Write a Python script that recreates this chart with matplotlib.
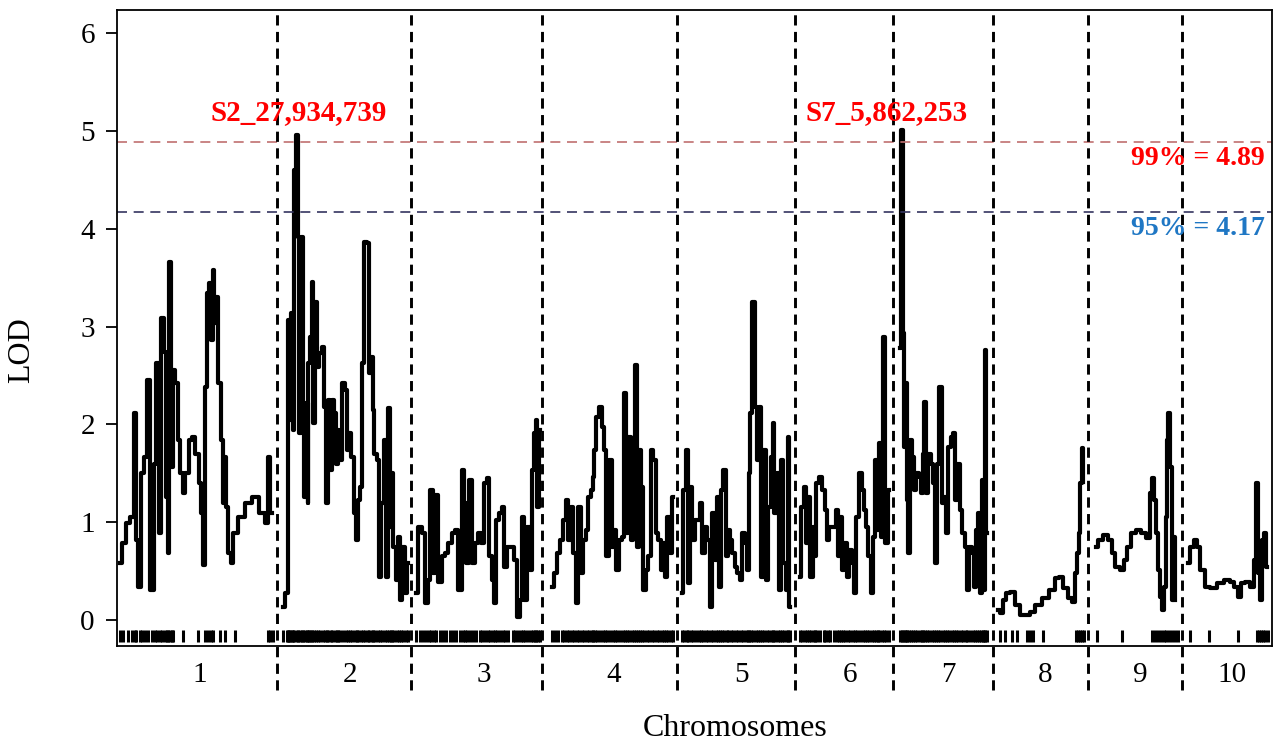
import matplotlib
matplotlib.use("Agg")
import matplotlib.pyplot as plt
from matplotlib.transforms import blended_transform_factory

plt.rcParams['font.family'] = ['Liberation Serif', 'DejaVu Serif']

# LOD profile, one pair of lists per chromosome (cumulative position, LOD)
chr1_pos = [120, 123, 128, 132, 135, 136, 140, 142, 145, 148, 152, 155, 157, 160, 162, 165, 167, 168, 170, 172,
            173, 177, 178, 182, 183, 187, 190, 193, 197, 200, 202, 204, 206, 208, 210, 212, 213, 215, 217, 219,
            222, 223, 225, 227, 229, 232, 233, 242, 248, 255, 262, 267, 268, 272]
chr1_lod = [0.58, 0.79, 0.99, 1.05, 2.12, 0.82, 0.34, 1.5, 1.67, 2.45, 0.31, 1.6, 2.63, 0.89, 3.09, 2.74, 1.26, 0.68, 3.66, 1.56,
            2.56, 2.42, 1.84, 1.5, 1.3, 1.5, 1.84, 1.87, 1.7, 1.4, 1.09, 0.56, 2.38, 3.34, 3.45, 2.86, 3.58, 3.04, 3.3, 2.42,
            1.84, 1.2, 1.67, 1.16, 0.68, 0.58, 0.89, 1.05, 1.2, 1.26, 1.09, 0.99, 1.67, 1.09]

chr2_pos = [283, 287, 288, 288.5, 290, 292, 293, 294, 297, 298, 300, 302, 303, 305, 307, 308, 308.5, 311, 312, 314,
            316, 318, 320, 323, 325, 327, 328, 331, 332, 335, 337, 338, 340, 343, 346, 348, 350, 352, 355, 357,
            358, 361, 363, 365, 368, 369, 372, 373, 375, 378, 380, 382, 385, 387, 389, 391, 392, 394, 397, 399,
            401, 403, 406, 408]
chr2_lod = [0.13, 0.28, 1.53, 3.07, 2.04, 3.14, 1.94, 4.6, 4.96, 3.92, 1.91, 3.92, 2.12, 1.26, 2.22, 1.2, 2.63, 2.89, 3.46, 2.01,
            3.25, 2.59, 2.73, 2.79, 2.18, 1.2, 2.25, 1.53, 2.25, 2.12, 1.6, 1.94, 1.64, 2.42, 2.35, 1.74, 1.91, 1.67, 1.09, 0.82,
            1.23, 1.36, 2.63, 3.86, 3.85, 2.53, 2.69, 2.15, 1.7, 1.64, 0.44, 1.2, 1.84, 0.44, 2.17, 0.95, 1.5, 0.75, 0.41, 0.85,
            0.2, 0.75, 0.28, 0.58]

chr3_pos = [416, 420, 423, 426, 429, 431, 434, 436, 440, 443, 446, 450, 453, 456, 460, 463, 465, 467, 470, 473,
            476, 480, 482, 485, 488, 490, 493, 495, 497, 500, 503, 505, 508, 513, 515, 518, 521, 523, 525, 528,
            531, 533, 535, 536, 538, 540]
chr3_lod = [0.28, 0.95, 0.89, 0.17, 0.41, 1.33, 0.48, 1.28, 0.39, 0.65, 0.68, 0.79, 0.89, 0.92, 0.31, 1.53, 1.2, 0.58, 1.43, 0.58,
            0.79, 0.89, 0.79, 1.4, 1.45, 0.65, 0.41, 0.17, 1.02, 1.09, 1.16, 0.54, 0.75, 0.75, 0.61, 0.03, 0.2, 1.05, 0.2, 0.95,
            0.51, 1.53, 1.91, 2.04, 1.16, 1.94]

chr4_pos = [552, 555, 558, 562, 564, 567, 569, 572, 574, 577, 579, 582, 584, 587, 589, 592, 593, 595, 597, 600,
            603, 605, 607, 610, 613, 615, 617, 620, 623, 625, 627, 629, 632, 634, 636, 638, 640, 642, 644, 647,
            649, 652, 654, 657, 659, 662, 664, 666, 668, 671, 673]
chr4_lod = [0.34, 0.48, 0.68, 0.82, 1.02, 1.23, 0.82, 1.16, 0.68, 0.17, 1.16, 0.48, 0.82, 0.92, 1.26, 1.33, 1.46, 1.74, 2.08, 2.18,
            1.97, 1.74, 0.65, 1.64, 0.75, 0.92, 0.51, 0.82, 0.85, 2.32, 0.89, 1.87, 0.82, 1.56, 2.61, 0.75, 1.74, 1.36, 0.31, 0.51,
            0.65, 1.74, 1.64, 0.89, 0.82, 0.51, 0.79, 0.44, 1.05, 0.68, 1.26]

chr5_pos = [682, 684, 687, 688, 691, 693, 696, 699, 701, 703, 706, 708, 711, 713, 716, 718, 720, 722, 724, 727,
            728, 731, 733, 736, 738, 741, 743, 746, 748, 749, 751, 753, 756, 758, 760, 762, 764, 767, 769, 772,
            773, 775, 778, 780, 782, 784, 787, 788, 790]
chr5_lod = [0.28, 1.33, 1.74, 0.38, 1.36, 0.82, 1.02, 1.02, 1.2, 0.68, 0.95, 0.82, 0.13, 1.09, 0.61, 1.26, 0.34, 1.33, 1.53, 0.65,
            0.92, 0.82, 0.68, 0.54, 0.48, 0.41, 0.89, 0.79, 0.51, 1.5, 2.12, 3.25, 2.18, 1.64, 2.18, 0.44, 1.74, 0.41, 1.16, 1.67,
            2.01, 1.09, 1.5, 0.31, 1.64, 0.58, 0.31, 1.87, 0.13]

chr6_pos = [800, 802, 805, 807, 809, 811, 814, 815, 817, 820, 824, 825, 828, 830, 834, 837, 839, 841, 843, 845,
            848, 850, 853, 855, 857, 860, 863, 865, 867, 869, 872, 874, 876, 878, 879, 882, 884, 886, 889]
chr6_lod = [0.44, 1.16, 1.36, 0.79, 1.26, 0.44, 0.95, 0.65, 1.4, 1.46, 1.33, 1.12, 0.82, 0.95, 0.95, 1.12, 0.65, 1.05, 0.51, 0.79,
            0.44, 0.72, 0.58, 0.28, 1.05, 1.5, 1.33, 1.12, 0.95, 0.65, 0.28, 0.85, 1.64, 0.92, 1.81, 0.85, 2.89, 0.79, 1.33]

chr7_pos = [900, 902, 903, 905, 906, 907, 909, 911, 913, 915, 917, 920, 922, 923, 925, 927, 929, 932, 934, 936,
            938, 940, 943, 945, 947, 949, 952, 954, 956, 958, 961, 963, 966, 967, 970, 973, 975, 977, 979, 981,
            983, 984, 985, 987]
chr7_lod = [2.78, 5.01, 2.93, 1.77, 2.42, 1.23, 0.68, 1.84, 1.67, 1.33, 1.5, 1.46, 1.3, 1.7, 2.23, 1.3, 1.7, 1.6, 1.4, 0.58,
            1.6, 2.38, 1.2, 1.26, 0.89, 1.77, 1.87, 1.91, 1.23, 1.6, 1.12, 0.89, 0.75, 0.31, 0.75, 0.68, 0.34, 0.92, 1.09, 0.28,
            1.43, 0.31, 2.76, 0.89]

chr8_pos = [998, 1002, 1004, 1008, 1012, 1017, 1022, 1027, 1032, 1038, 1045, 1052, 1057, 1060, 1065, 1070, 1073, 1076,
            1078, 1079, 1081, 1082, 1083]
chr8_lod = [0.10, 0.07, 0.2, 0.28, 0.29, 0.15, 0.05, 0.05, 0.08, 0.15, 0.22, 0.31, 0.43, 0.44, 0.33, 0.22, 0.18, 0.48,
            0.68, 0.89, 1.4, 1.76, 1.41]

chr9_pos = [1096, 1100, 1105, 1110, 1113, 1117, 1122, 1125, 1128, 1133, 1138, 1143, 1148, 1151, 1153, 1155, 1157, 1158,
            1161, 1163, 1165, 1166, 1167, 1169, 1171, 1172, 1174, 1175]
chr9_lod = [0.75, 0.82, 0.87, 0.82, 0.68, 0.54, 0.51, 0.61, 0.75, 0.89, 0.92, 0.89, 0.84, 1.3, 1.45, 1.23, 0.89, 0.51,
            0.24, 0.1, 0.34, 1.05, 1.84, 2.12, 1.56, 0.2, 0.85, 0.2]

chr10_pos = [1188, 1192, 1195, 1198, 1202, 1207, 1213, 1220, 1227, 1232, 1236, 1239, 1243, 1247, 1252, 1255, 1257, 1258,
             1261, 1263, 1265, 1267]
chr10_lod = [0.58, 0.75, 0.82, 0.75, 0.51, 0.34, 0.33, 0.38, 0.41, 0.39, 0.34, 0.24, 0.38, 0.39, 0.34, 0.61, 1.4, 0.48,
             0.2, 0.82, 0.89, 0.54]

# marker positions for the rug where they are sparse
chr1_extra_markers = [183, 198, 205, 208, 211, 213, 220, 225, 235, 268, 270, 273]
chr8_markers = [1000, 1005, 1012, 1017, 1027, 1030, 1033, 1043, 1076, 1078, 1080, 1082, 1084]
chr9_markers = [1097, 1122, 1152, 1155, 1158, 1161, 1164, 1166, 1169, 1172, 1175, 1178]
chr10_markers = [1190, 1209, 1238, 1257, 1259, 1261, 1263, 1265, 1268]

chrom_names = ['1', '2', '3', '4', '5', '6', '7', '8', '9', '10']
chrom_centers = [200, 350, 484, 614, 742, 850, 948, 1045, 1140, 1232]
chrom_breaks = [277, 411, 542, 677, 795, 893, 993, 1088, 1182]

thr99 = 4.89
thr95 = 4.17
peak_names = ['S2_27,934,739', 'S7_5,862,253']
peak_x = [299, 887]

profiles = [(chr1_pos, chr1_lod), (chr2_pos, chr2_lod), (chr3_pos, chr3_lod), (chr4_pos, chr4_lod),
            (chr5_pos, chr5_lod), (chr6_pos, chr6_lod), (chr7_pos, chr7_lod), (chr8_pos, chr8_lod),
            (chr9_pos, chr9_lod), (chr10_pos, chr10_lod)]

markers = [p for p in chr1_pos if p < 175] + chr1_extra_markers
for pos, lod in profiles[1:7]:
    markers += pos
markers += chr8_markers + chr9_markers + chr10_markers

fig = plt.figure(figsize=(12.81, 7.42), dpi=100)
ax = fig.add_axes([117 / 1281, 1 - 646 / 742, (1272 - 117) / 1281, 636 / 742])

for pos, lod in profiles:
    ax.plot(pos, lod, color='black', lw=3.0, drawstyle='steps-mid')

ax.vlines(markers, -0.23, -0.1, color='black', lw=2.2)

ax.axhline(thr99, color='#c07070', lw=1.2, ls=(0, (6, 4)))
ax.axhline(thr95, color='#353560', lw=1.2, ls=(0, (6, 4)))

ax.vlines(chrom_breaks, -0.72, 6.24, color='black', lw=2.1, ls=(0, (3.5, 2.2)), clip_on=False)

ax.set_xlim(117, 1272)
ax.set_ylim(-0.266, 6.237)
ax.set_xticks([])
ax.set_yticks(range(7))
ax.tick_params(axis='y', labelsize=21, length=8, width=1.3, pad=8)
for s in ax.spines.values():
    s.set_linewidth(1.3)

trans = blended_transform_factory(ax.transData, ax.transAxes)
for name, cx in zip(chrom_names, chrom_centers):
    ax.text(cx, -0.046, name, transform=trans, ha='center', va='center', fontsize=21)

for name, px in zip(peak_names, peak_x):
    ax.text(px, 5.19, name, color='red', fontweight='bold', fontsize=21, ha='center', va='center')

ax.text(1265, 4.72, '99% = 4.89', color='red', fontweight='bold', fontsize=20, ha='right', va='center')
ax.text(1265, 4.0, '95% = 4.17', color='#1f77c4', fontweight='bold', fontsize=20, ha='right', va='center')

fig.text(22 / 1281, 1 - 350 / 742, 'LOD', rotation=90, ha='center', va='center', fontsize=23)
fig.text(735 / 1281, 1 - 728 / 742, 'Chromosomes', ha='center', va='center', fontsize=23)

fig.savefig('out.png', dpi=100)
